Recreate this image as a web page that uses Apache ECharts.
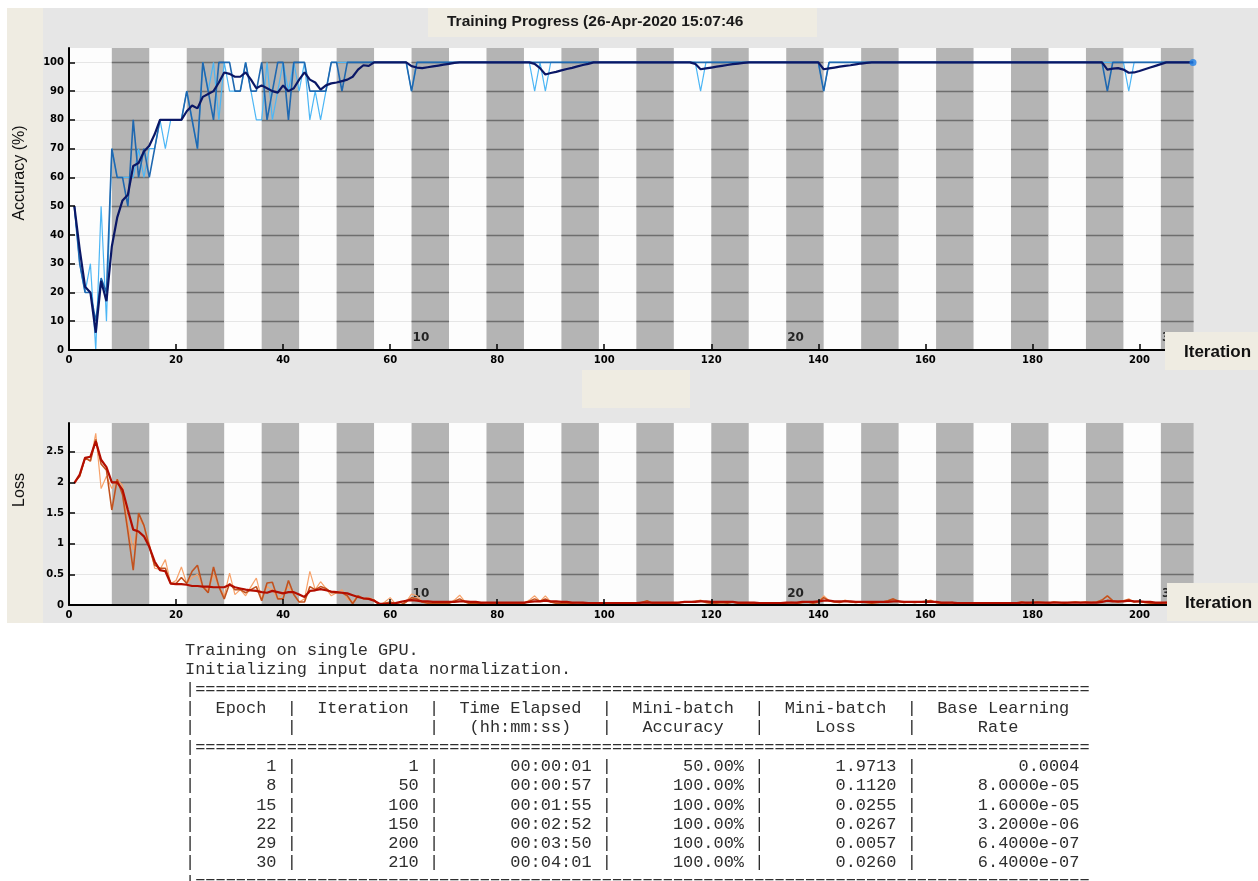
<!DOCTYPE html>
<html><head><meta charset="utf-8">
<script src="https://cdn.jsdelivr.net/npm/echarts@6/dist/echarts.min.js"></script>
<style>html,body{margin:0;padding:0;background:#fff}#c{width:1258px;height:881px}</style>
</head><body><div id="c"></div>
<script>
// ---------------- data ----------------
const numEpochs = 30;
const itersPerEpoch = 7;
const maxIter = 210;
const xTicks = [0, 20, 40, 60, 80, 100, 120, 140, 160, 180, 200];
const accTicks = [0, 10, 20, 30, 40, 50, 60, 70, 80, 90, 100];
const lossTicks = [0, 0.5, 1, 1.5, 2, 2.5];
const epochLabels = [10, 20, 30];

// mini-batch accuracy (raw, light blue)
const accLight = [
50,30,20,30,0,50,10,70,60,60,
60,60,70,60,70,70,80,70,80,80,
80,90,80,70,100,90,100,80,100,90,
90,90,100,90,80,80,100,80,90,100,
90,100,90,100,80,90,80,90,100,100,
100,100,100,100,100,100,100,100,100,100,
100,100,100,90,100,100,100,100,100,100,
100,100,100,100,100,100,100,100,100,100,
100,100,100,100,100,100,90,100,90,100,
100,100,100,100,100,100,100,100,100,100,
100,100,100,100,100,100,100,100,100,100,
100,100,100,100,100,100,100,90,100,100,
100,100,100,100,100,100,100,100,100,100,
100,100,100,100,100,100,100,100,100,100,
90,100,100,100,100,100,100,100,100,100,
100,100,100,100,100,100,100,100,100,100,
100,100,100,100,100,100,100,100,100,100,
100,100,100,100,100,100,100,100,100,100,
100,100,100,100,100,100,100,100,100,100,
100,100,100,100,100,100,100,90,100,100,
100,100,100,100,100,100,100,100,100,100];

// mini-batch accuracy (raw, medium blue)
const accMid = [
50,30,20,20,10,25,20,70,60,60,
50,80,60,70,60,70,80,80,80,80,
80,90,80,70,100,90,80,100,100,100,
90,90,100,90,90,100,80,90,100,100,
80,100,100,100,90,90,90,90,100,100,
90,100,100,100,100,100,100,100,100,100,
100,100,100,90,100,100,100,100,100,100,
100,100,100,100,100,100,100,100,100,100,
100,100,100,100,100,100,100,100,100,100,
100,100,100,100,100,100,100,100,100,100,
100,100,100,100,100,100,100,100,100,100,
100,100,100,100,100,100,100,100,100,100,
100,100,100,100,100,100,100,100,100,100,
100,100,100,100,100,100,100,100,100,100,
90,100,100,100,100,100,100,100,100,100,
100,100,100,100,100,100,100,100,100,100,
100,100,100,100,100,100,100,100,100,100,
100,100,100,100,100,100,100,100,100,100,
100,100,100,100,100,100,100,100,100,100,
100,100,100,90,100,100,100,100,100,100,
100,100,100,100,100,100,100,100,100,100];

// smoothed accuracy (navy)
const accSmooth = [
50,35,22,20,6,24,17,36,46,52,
54,64,65,69,71,75,80,80,80,80,
80,83,85,84,88,89,90,93,96.5,96,
95,95,96.5,94,91,92,91,90,89.5,92,
90,91,94,96.5,94,93,90.5,92,92.7,93,
93.5,94,95,97.5,99,98.8,100,100,100,100,
100,100,100,98.7,98.2,98,98.3,98.6,98.9,99.2,
99.5,99.8,100,100,100,100,100,100,100,100,
100,100,100,100,100,100,99.5,98,95.8,96.3,
96.7,97.2,97.7,98.1,98.6,99.1,99.5,100,100,100,
100,100,100,100,100,100,100,100,100,100,
100,100,100,100,100,100,99.5,97.6,97.9,98.2,
98.5,98.8,99.1,99.4,99.6,99.8,100,100,100,100,
100,100,100,100,100,100,100,100,100,100,
97.6,97.9,98.2,98.5,98.8,99,99.3,99.6,99.8,100,
100,100,100,100,100,100,100,100,100,100,
100,100,100,100,100,100,100,100,100,100,
100,100,100,100,100,100,100,100,100,100,
100,100,100,100,100,100,100,100,100,100,
100,100,100,97.5,97.8,98,97.5,96.4,96.5,97,
97.6,98.2,98.8,99.4,100,100,100,100,100,100];

// validation accuracy
const valIter = [210];
const valAcc = [100];

// mini-batch loss (raw, light orange)
const lossLight = [
2.0,2.1,2.4,2.35,2.8,1.9,2.1,1.9,2.05,1.95,
1.3,0.9,1.4,1.3,1.0,0.6,0.58,0.74,0.35,0.4,
0.62,0.35,0.45,0.5,0.3,0.25,0.5,0.3,0.15,0.52,
0.17,0.25,0.15,0.3,0.44,0.1,0.3,0.25,0.1,0.2,
0.3,0.17,0.05,0.1,0.55,0.25,0.38,0.27,0.15,0.2,
0.25,0.1,0.05,0.15,0.1,0.12,0.08,0.0,0.05,0.12,
0.02,0.01,0.05,0.18,0.15,0.05,0.03,0.02,0.03,0.02,
0.03,0.08,0.16,0.05,0.02,0.03,0.02,0.01,0.02,0.02,
0.02,0.02,0.03,0.02,0.03,0.08,0.15,0.06,0.15,0.05,
0.03,0.02,0.03,0.02,0.01,0.02,0.02,0.03,0.02,0.01,
0.01,0.02,0.02,0.01,0.02,0.03,0.04,0.06,0.03,0.02,
0.02,0.03,0.02,0.04,0.05,0.05,0.06,0.08,0.04,0.03,
0.03,0.04,0.03,0.05,0.03,0.02,0.02,0.03,0.02,0.01,
0.01,0.02,0.02,0.03,0.04,0.03,0.04,0.05,0.03,0.05,
0.15,0.07,0.05,0.04,0.08,0.05,0.04,0.05,0.04,0.03,
0.04,0.05,0.07,0.09,0.06,0.04,0.05,0.04,0.05,0.06,
0.08,0.04,0.03,0.03,0.04,0.02,0.02,0.01,0.02,0.01,
0.02,0.01,0.02,0.02,0.03,0.02,0.03,0.05,0.03,0.04,
0.05,0.04,0.03,0.05,0.04,0.03,0.04,0.05,0.04,0.05,
0.04,0.05,0.08,0.15,0.06,0.05,0.07,0.1,0.05,0.06,
0.04,0.03,0.02,0.03,0.04,0.02,0.02,0.03,0.02,0.03];

// mini-batch loss (raw, medium orange)
const lossMid = [
2.0,2.1,2.4,2.35,2.7,2.3,2.2,1.55,2.05,1.8,
1.2,0.57,1.5,1.3,0.95,0.65,0.6,0.6,0.35,0.35,
0.45,0.35,0.55,0.65,0.3,0.2,0.62,0.3,0.1,0.35,
0.25,0.25,0.2,0.25,0.3,0.07,0.36,0.37,0.1,0.1,
0.4,0.17,0.05,0.05,0.3,0.25,0.3,0.27,0.2,0.2,
0.2,0.15,0.02,0.15,0.1,0.1,0.08,0.0,0.03,0.05,
0.02,0.0,0.05,0.12,0.1,0.05,0.03,0.02,0.03,0.02,
0.03,0.06,0.1,0.05,0.02,0.03,0.02,0.01,0.02,0.02,
0.02,0.02,0.03,0.02,0.03,0.06,0.1,0.06,0.1,0.05,
0.03,0.02,0.03,0.02,0.01,0.02,0.02,0.03,0.02,0.01,
0.01,0.02,0.02,0.01,0.02,0.03,0.04,0.07,0.03,0.02,
0.02,0.03,0.02,0.04,0.05,0.05,0.06,0.07,0.04,0.03,
0.03,0.04,0.03,0.05,0.03,0.02,0.02,0.03,0.02,0.01,
0.01,0.02,0.02,0.03,0.04,0.03,0.04,0.05,0.03,0.05,
0.12,0.07,0.05,0.04,0.07,0.05,0.04,0.05,0.04,0.03,
0.04,0.05,0.07,0.1,0.06,0.04,0.05,0.04,0.05,0.06,
0.07,0.04,0.03,0.03,0.04,0.02,0.02,0.01,0.02,0.01,
0.02,0.01,0.02,0.02,0.03,0.02,0.03,0.05,0.03,0.04,
0.05,0.04,0.03,0.05,0.04,0.03,0.04,0.05,0.04,0.05,
0.04,0.05,0.08,0.15,0.07,0.05,0.07,0.08,0.05,0.06,
0.04,0.03,0.02,0.03,0.04,0.02,0.02,0.03,0.02,0.03];

// smoothed loss (dark red)
const lossSmooth = [
1.99,2.13,2.4,2.42,2.67,2.37,2.25,2.0,2.0,1.88,
1.55,1.23,1.2,1.12,0.95,0.71,0.57,0.55,0.35,0.34,
0.34,0.33,0.31,0.31,0.30,0.30,0.29,0.29,0.29,0.33,
0.29,0.27,0.25,0.24,0.23,0.21,0.20,0.23,0.21,0.19,
0.21,0.21,0.17,0.13,0.23,0.24,0.26,0.24,0.22,0.21,
0.20,0.19,0.16,0.13,0.11,0.10,0.07,0.02,0.02,0.02,
0.03,0.05,0.07,0.08,0.07,0.06,0.06,0.05,0.05,0.05,
0.05,0.05,0.06,0.06,0.05,0.05,0.04,0.04,0.04,0.04,
0.04,0.04,0.04,0.04,0.04,0.05,0.06,0.06,0.07,0.06,
0.06,0.05,0.05,0.04,0.04,0.04,0.03,0.03,0.03,0.03,
0.03,0.03,0.03,0.03,0.03,0.03,0.04,0.04,0.04,0.04,
0.04,0.04,0.04,0.04,0.05,0.05,0.05,0.06,0.06,0.05,
0.05,0.05,0.05,0.05,0.04,0.04,0.04,0.04,0.03,0.03,
0.03,0.03,0.03,0.04,0.04,0.04,0.05,0.05,0.05,0.06,
0.07,0.07,0.06,0.06,0.06,0.06,0.05,0.05,0.05,0.05,
0.05,0.05,0.05,0.06,0.06,0.05,0.05,0.05,0.05,0.05,
0.05,0.05,0.04,0.04,0.04,0.03,0.03,0.03,0.03,0.03,
0.03,0.03,0.03,0.03,0.03,0.03,0.03,0.04,0.04,0.04,
0.04,0.04,0.04,0.04,0.04,0.04,0.04,0.04,0.04,0.04,
0.04,0.04,0.05,0.07,0.06,0.06,0.06,0.07,0.06,0.06,
0.05,0.05,0.04,0.04,0.04,0.04,0.03,0.03,0.03,0.03];

// command-window table
const tblEpoch = [1, 8, 15, 22, 29, 30];
const tblIter = [1, 50, 100, 150, 200, 210];
const tblTime = ['00:00:01', '00:00:57', '00:01:55', '00:02:52', '00:03:50', '00:04:01'];
const tblAcc = ['50.00%', '100.00%', '100.00%', '100.00%', '100.00%', '100.00%'];
const tblLoss = ['1.9713', '0.1120', '0.0255', '0.0267', '0.0057', '0.0260'];
const tblLR = ['0.0004', '8.0000e-05', '1.6000e-05', '3.2000e-06', '6.4000e-07', '6.4000e-07'];

// ---------------- build ----------------
const pairs = arr => arr.map((v, i) => [i + 1, v]);
const epochSpans = [];
for (let e = 1; e <= numEpochs; e++) {
  epochSpans.push([(e - 1) * itersPerEpoch + 1, Math.min(e * itersPerEpoch + 1, maxIter), e]);
}
const epochMarks = epochLabels.map(e => ({ value: [(e - 1) * itersPerEpoch + 1, 0], name: String(e) }));

const ACC_MAX = 105, LOSS_MAX = 2.97;

function stripes(yMin, yMax, ticks) {
  return function (params, api) {
    const s = api.value(0), e = api.value(1), k = api.value(2);
    const tl = api.coord([s, yMax]), br = api.coord([e, yMin]);
    const gray = k % 2 === 0;
    const children = [{
      type: 'rect',
      shape: { x: tl[0], y: tl[1], width: br[0] - tl[0] + 0.6, height: br[1] - tl[1] },
      style: { fill: gray ? '#b4b4b4' : '#fdfdfd' }
    }];
    ticks.forEach(t => {
      if (t <= yMin) return;
      const y = Math.round(api.coord([s, t])[1]) + 0.5;
      children.push({
        type: 'line',
        shape: { x1: tl[0], y1: y, x2: br[0] + 0.6, y2: y },
        style: { stroke: gray ? '#6e6e6e' : '#e6e6e6', lineWidth: gray ? 1.6 : 1 }
      });
    });
    return { type: 'group', children };
  };
}

const axisFont = { fontFamily: 'DejaVu Sans', fontWeight: 'bold', fontSize: 10, color: '#000' };

function xAxisCfg(gi) {
  return {
    type: 'value', gridIndex: gi, min: 0, max: maxIter, interval: 20, z: 10,
    axisLine: { show: true, lineStyle: { color: '#000', width: 2 } },
    axisTick: { show: true, inside: true, length: 6, lineStyle: { color: '#000', width: 1.5 } },
    axisLabel: Object.assign({ margin: 5, showMaxLabel: false }, axisFont),
    splitLine: { show: false }
  };
}
function yAxisCfg(gi, max, interval) {
  return {
    type: 'value', gridIndex: gi, min: 0, max: max, interval: interval, z: 10,
    axisLine: { show: true, lineStyle: { color: '#000', width: 2 } },
    axisTick: { show: true, inside: true, length: 6, lineStyle: { color: '#000', width: 1.5 } },
    axisLabel: Object.assign({ margin: 5, showMaxLabel: false }, axisFont),
    splitLine: { show: false }
  };
}

// table text
const pad = (s, n) => String(s).padStart(n, ' ');
const sep = '|' + '='.repeat(88);
const lines = [
  'Training on single GPU.',
  'Initializing input data normalization.',
  sep,
  '|  Epoch  |  Iteration  |  Time Elapsed  |  Mini-batch  |  Mini-batch  |  Base Learning',
  '|         |             |   (hh:mm:ss)   |   Accuracy   |     Loss     |      Rate',
  sep
];
tblEpoch.forEach((ep, i) => {
  lines.push('|' + pad(ep, 8) + ' |' + pad(tblIter[i], 12) + ' |' + pad(tblTime[i], 15) + ' |' +
    pad(tblAcc[i], 13) + ' |' + pad(tblLoss[i], 13) + ' |' + pad(tblLR[i], 16));
});
lines.push(sep);

const beige = '#efece2';
const chart = echarts.init(document.getElementById('c'), null, { renderer: 'canvas' });
chart.setOption({
  animation: false,
  backgroundColor: '#ffffff',
  grid: [
    { left: 69, right: 65, top: 48, height: 302, show: true, backgroundColor: '#fdfdfd', borderWidth: 0, containLabel: false },
    { left: 69, right: 65, top: 423, height: 182, show: true, backgroundColor: '#fdfdfd', borderWidth: 0, containLabel: false }
  ],
  xAxis: [xAxisCfg(0), xAxisCfg(1)],
  yAxis: [yAxisCfg(0, ACC_MAX, 10), yAxisCfg(1, LOSS_MAX, 0.5)],
  series: [
    { type: 'custom', name: 'epochsA', xAxisIndex: 0, yAxisIndex: 0, z: 1, silent: true,
      renderItem: stripes(0, ACC_MAX, accTicks), encode: { x: [0, 1] }, data: epochSpans },
    { type: 'custom', name: 'epochsL', xAxisIndex: 1, yAxisIndex: 1, z: 1, silent: true,
      renderItem: stripes(0, LOSS_MAX, lossTicks), encode: { x: [0, 1] }, data: epochSpans },
    { type: 'scatter', name: 'epochA', xAxisIndex: 0, yAxisIndex: 0, z: 3, symbolSize: 0, data: epochMarks,
      label: { show: true, formatter: p => p.name, position: [1, -18], fontFamily: 'DejaVu Sans', fontWeight: 'bold', fontSize: 12, color: '#000' } },
    { type: 'scatter', name: 'epochL', xAxisIndex: 1, yAxisIndex: 1, z: 3, symbolSize: 0, data: epochMarks,
      label: { show: true, formatter: p => p.name, position: [1, -17], fontFamily: 'DejaVu Sans', fontWeight: 'bold', fontSize: 12, color: '#000' } },
    { type: 'line', name: 'Accuracy raw', xAxisIndex: 0, yAxisIndex: 0, z: 4, showSymbol: false,
      lineStyle: { color: '#4cb6f5', width: 1.2 }, data: pairs(accLight) },
    { type: 'line', name: 'Accuracy raw 2', xAxisIndex: 0, yAxisIndex: 0, z: 5, showSymbol: false,
      lineStyle: { color: '#1f68b0', width: 1.6 }, data: pairs(accMid) },
    { type: 'line', name: 'Accuracy smoothed', xAxisIndex: 0, yAxisIndex: 0, z: 6, showSymbol: false,
      lineStyle: { color: '#0a1766', width: 2.2 }, data: pairs(accSmooth) },
    { type: 'scatter', name: 'Validation', xAxisIndex: 0, yAxisIndex: 0, z: 7, clip: false, symbolSize: 7,
      itemStyle: { color: '#1f7fe8' }, data: valIter.map((x, i) => [x, valAcc[i]]) },
    { type: 'line', name: 'Loss raw', xAxisIndex: 1, yAxisIndex: 1, z: 4, showSymbol: false,
      lineStyle: { color: '#f7a26a', width: 1.2 }, data: pairs(lossLight) },
    { type: 'line', name: 'Loss raw 2', xAxisIndex: 1, yAxisIndex: 1, z: 5, showSymbol: false,
      lineStyle: { color: '#c2521e', width: 1.6 }, data: pairs(lossMid) },
    { type: 'line', name: 'Loss smoothed', xAxisIndex: 1, yAxisIndex: 1, z: 6, showSymbol: false,
      lineStyle: { color: '#b30e00', width: 2.2 }, data: pairs(lossSmooth) }
  ],
  graphic: [
    { type: 'rect', z: -100, silent: true, shape: { x: 7, y: 8, width: 1251, height: 615 }, style: { fill: '#e6e6e6' } },
    { type: 'rect', z: -99, silent: true, shape: { x: 7, y: 8, width: 36, height: 615 }, style: { fill: beige } },
    { type: 'rect', z: 100, silent: true, shape: { x: 428, y: 8, width: 389, height: 29 }, style: { fill: beige } },
    { type: 'text', z: 101, silent: true, x: 447, y: 22,
      style: { text: 'Training Progress (26-Apr-2020 15:07:46', font: 'bold 15.5px "Liberation Sans", Arial, sans-serif', fill: '#1a1a1a', verticalAlign: 'middle' } },
    { type: 'rect', z: 100, silent: true, shape: { x: 582, y: 370, width: 108, height: 38 }, style: { fill: beige } },
    { type: 'rect', z: 100, silent: true, shape: { x: 1165, y: 332, width: 93, height: 38 }, style: { fill: beige } },
    { type: 'text', z: 101, silent: true, x: 1184, y: 352,
      style: { text: 'Iteration', font: 'bold 17px "Liberation Sans", Arial, sans-serif', fill: '#111', verticalAlign: 'middle' } },
    { type: 'rect', z: 100, silent: true, shape: { x: 1167, y: 583, width: 91, height: 38 }, style: { fill: beige } },
    { type: 'text', z: 101, silent: true, x: 1185, y: 603,
      style: { text: 'Iteration', font: 'bold 17px "Liberation Sans", Arial, sans-serif', fill: '#111', verticalAlign: 'middle' } },
    { type: 'text', z: 101, silent: true, x: 20, y: 173, rotation: Math.PI / 2,
      style: { text: 'Accuracy (%)', font: '16px "Liberation Sans", Arial, sans-serif', fill: '#111', align: 'center', verticalAlign: 'middle' } },
    { type: 'text', z: 101, silent: true, x: 20, y: 490, rotation: Math.PI / 2,
      style: { text: 'Loss', font: '16px "Liberation Sans", Arial, sans-serif', fill: '#111', align: 'center', verticalAlign: 'middle' } },
    { type: 'text', z: 101, silent: true, x: 185, y: 641,
      style: { text: lines.join('\n'), font: '16.95px "Liberation Mono", "DejaVu Sans Mono", monospace', lineHeight: 19.3, fill: '#2e2e2e', verticalAlign: 'top' } }
  ]
});
</script></body></html>
